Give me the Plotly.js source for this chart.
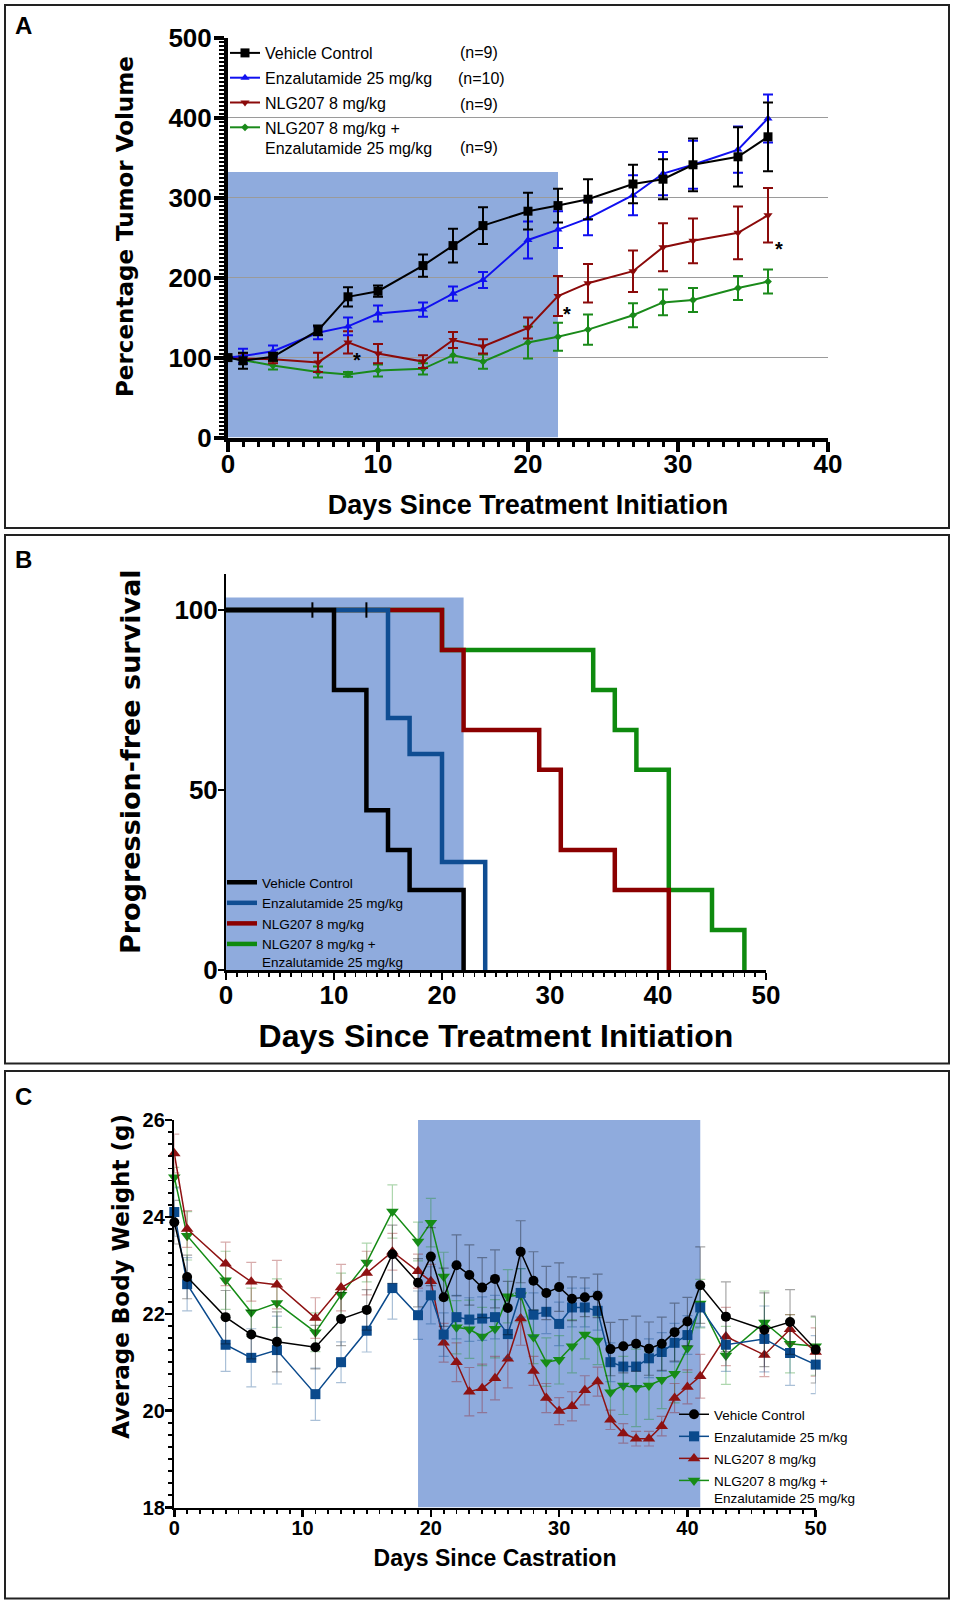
<!DOCTYPE html>
<html><head><meta charset="utf-8">
<script src="https://cdn.plot.ly/plotly-3.0.1.min.js"></script>
<style>html,body{margin:0;padding:0;background:#fff;} #chart{width:954px;height:1603px;}</style>
</head><body><div id="chart"></div>
<script>
// ---------- Panel A: tumor volume ----------
const daysA = [0,1,3,6,8,10,13,15,17,20,22,24,27,29,31,34,36];
const vehA = [100,96,101,134,176,183,215,240,265,283,290,298,317,323,341,351,376];
const vehAerr = [0,10,5,6,12,7,14,21,23,23,21,25,24,25,33,37,43];
const enzA = [100,102,108,131,139,155,160,180,197,247,260,274,303,330,341,360,399];
const enzAerr = [0,9,7,8,11,10,9,9,10,23,23,21,25,27,30,29,30];
const nlgA = [100,99,98,94,119,105,95,122,114,137,177,193,208,238,246,256,278];
const nlgAerr = [0,6,5,12,14,12,8,10,9,13,25,24,26,30,28,33,34];
const comboA = [100,97,90,82,79,84,86,103,95,119,126,135,153,169,172,187,195];
const comboAerr = [0,5,5,7,3,7.5,7,9,9,20,17.5,19,15,16,15,15,15];
const nLabelsA = ['(n=9)','(n=10)','(n=9)','(n=9)'];
const starDaysA = [8.6, 22.6, 36.7];
const starValsA = [97, 154, 236];
const treatA = [0, 22, 332];   // treatment window: day start, day end, top

// ---------- Panel B: progression-free survival ----------
const vehBx = [0,10,13,15,17,22];
const vehBy = [100,77.8,44.4,33.3,22.2,0];
const enzBx = [0,15,17,20,24];
const enzBy = [100,70,60,30,0];
const nlgBx = [0,20,22,29,31,36,41];
const nlgBy = [100,88.9,66.7,55.6,33.3,22.2,0];
const comboBx = [0,20,34,36,38,41,45,48];
const comboBy = [100,88.9,77.8,66.7,55.6,22.2,11.1,0];
const censorBx = [8,13];
const censorBy = [100,100];
const treatB = [0, 22, 103.5];

// ---------- Panel C: body weight ----------
const daysC = [0,1,4,6,8,11,13,15,17,19,20,21,22,23,24,25,26,27,28,29,30,31,32,33,34,35,36,37,38,39,40,41,43,46,48,50];
const vehC = [23.89,22.76,21.93,21.57,21.42,21.31,21.89,22.08,23.23,22.64,23.18,22.34,23.0,22.80,22.54,22.72,22.12,23.28,22.68,22.43,22.55,22.31,22.34,22.37,21.27,21.33,21.38,21.28,21.38,21.62,21.84,22.59,21.94,21.67,21.83,21.26];
const vehCerr = [0.45,0.45,0.55,0.5,0.62,0.45,0.55,0.42,0.6,0.5,0.6,0.6,0.63,0.62,0.62,0.6,0.55,0.64,0.6,0.55,0.5,0.45,0.4,0.45,0.55,0.55,0.57,0.55,0.55,0.6,0.5,0.79,0.72,0.76,0.67,0.69];
const enzC = [24.10,22.61,21.36,21.09,21.25,20.34,21.0,21.65,22.53,21.97,22.38,21.57,21.93,21.88,21.90,21.93,21.58,22.43,21.98,22.04,21.79,22.13,22.13,22.06,21.0,20.91,20.91,21.08,21.21,21.40,21.56,22.13,21.36,21.48,21.19,20.95];
const enzCerr = [0.5,0.55,0.55,0.6,0.7,0.54,0.42,0.44,0.64,0.5,0.59,0.45,0.45,0.45,0.45,0.45,0.5,0.5,0.45,0.45,0.45,0.4,0.4,0.4,0.4,0.4,0.4,0.4,0.4,0.4,0.4,0.4,0.55,0.68,0.67,0.6];
const nlgC = [25.31,23.75,23.03,22.66,22.60,21.91,22.54,22.84,23.28,22.88,22.67,21.40,21.0,20.39,20.46,20.67,21.07,21.90,20.82,20.26,19.99,20.09,20.42,20.60,19.81,19.53,19.42,19.42,19.68,20.26,20.49,20.71,21.53,21.15,21.68,21.21];
const nlgCerr = [0.4,0.38,0.45,0.4,0.5,0.42,0.48,0.45,0.38,0.35,0.35,0.4,0.4,0.5,0.5,0.45,0.6,0.55,0.3,0.3,0.28,0.3,0.3,0.3,0.2,0.2,0.15,0.15,0.2,0.3,0.35,0.45,0.6,0.45,0.3,0.5];
const comboC = [24.82,23.61,22.69,22.03,22.22,21.62,22.39,23.06,24.11,23.49,23.88,22.77,21.72,21.68,21.53,21.69,22.36,22.38,21.52,21.0,21.05,21.33,21.57,21.45,20.38,20.52,20.47,20.52,20.64,20.76,21.29,22.21,21.14,21.82,21.38,21.33];
const comboCerr = [0.2,0.5,0.6,0.5,0.5,0.4,0.45,0.4,0.55,0.4,0.5,0.5,0.55,0.6,0.6,0.6,0.55,0.55,0.55,0.5,0.5,0.55,0.5,0.5,0.6,0.6,0.8,0.7,0.6,0.6,0.5,0.5,0.6,0.65,0.6,0.6];
const treatC = [19, 41, 26];

const namesAB = ['Vehicle Control','Enzalutamide 25 mg/kg','NLG207 8 mg/kg','NLG207 8 mg/kg +<br>Enzalutamide 25 mg/kg'];
const namesC = ['Vehicle Control','Enzalutamide 25 m/kg','NLG207 8 mg/kg','NLG207 8 mg/kg +<br>Enzalutamide 25 mg/kg'];
const yTitles = ['Percentage Tumor Volume','Progression-free survival','Average Body Weight (g)'];

// ---------- styling ----------
const W = 954, H = 1603;
const fx = p => p / W;
const fy = p => 1 - p / H;
const SANS = 'Liberation Sans, Arial, sans-serif';
const WIDE = 'DejaVu Sans, Verdana, sans-serif';
const SHADE = '#8FABDD';

function traceA(name, y, err, color, symbol, size, rank){
  return {x: daysA, y: y, name: name, type: 'scatter', mode: 'lines+markers', xaxis: 'x', yaxis: 'y',
    legend: 'legend', legendgroup: 'A' + rank, legendrank: rank, cliponaxis: false,
    line: {color: color, width: 2}, marker: {color: color, symbol: symbol, size: size},
    error_y: {type: 'data', array: err, visible: true, color: color, thickness: 2, width: 5}};
}
function traceB(name, x, y, color, rank){
  return {x: x, y: y, name: name, type: 'scatter', mode: 'lines', xaxis: 'x2', yaxis: 'y2',
    legend: 'legend2', legendgroup: 'B' + rank, legendrank: rank, cliponaxis: false,
    line: {color: color, width: 4.5, shape: 'hv'}};
}
function traceC(name, y, err, color, errColor, symbol, size, rank){
  return {x: daysC, y: y, name: name, type: 'scatter', mode: 'lines+markers', xaxis: 'x3', yaxis: 'y3',
    legend: 'legend3', legendgroup: 'C' + rank, legendrank: rank, cliponaxis: false,
    line: {color: color, width: 1.5}, marker: {color: color, symbol: symbol, size: size},
    error_y: {type: 'data', array: err, visible: true, color: errColor, thickness: 1.2, width: 5}};
}

const data = [
  traceA(namesAB[3], comboA, comboAerr, '#1A8A1A', 'diamond', 6, 4),
  traceA(namesAB[2], nlgA, nlgAerr, '#8B0A0A', 'triangle-down', 8, 3),
  traceA(namesAB[1], enzA, enzAerr, '#1010F0', 'triangle-up', 8, 2),
  traceA(namesAB[0], vehA, vehAerr, '#000000', 'square', 9, 1),

  traceB(namesAB[3], comboBx, comboBy, '#0E8A0E', 4),
  traceB(namesAB[2], nlgBx, nlgBy, '#8B0000', 3),
  traceB(namesAB[1], enzBx, enzBy, '#0F4D92', 2),
  traceB(namesAB[0], vehBx, vehBy, '#000000', 1),
  {x: censorBx, y: censorBy, type: 'scatter', mode: 'markers', xaxis: 'x2', yaxis: 'y2', showlegend: false,
   hoverinfo: 'skip', cliponaxis: false,
   marker: {symbol: 'line-ns', size: 11, line: {color: '#000', width: 2}}},

  traceC(namesC[3], comboC, comboCerr, '#168C16', 'rgba(22,140,22,0.35)', 'triangle-down', 11, 4),
  traceC(namesC[2], nlgC, nlgCerr, '#8E1212', 'rgba(142,18,18,0.35)', 'triangle-up', 11, 3),
  traceC(namesC[1], enzC, enzCerr, '#0B4A8C', 'rgba(11,74,140,0.35)', 'square', 10, 2),
  traceC(namesC[0], vehC, vehCerr, '#000000', 'rgba(0,0,0,0.35)', 'circle', 10, 1)
];

const tickBold = s => ({family: SANS, size: s, weight: 'bold', color: '#000'});
const txt = (text, x, y, font, extra) => Object.assign({text: text, xref: 'paper', yref: 'paper', x: fx(x), y: fy(y),
  xanchor: 'center', yanchor: 'middle', showarrow: false, font: font}, extra || {});

const layout = {
  width: W, height: H,
  margin: {l: 0, r: 0, t: 0, b: 0},
  paper_bgcolor: '#fff', plot_bgcolor: 'rgba(0,0,0,0)',
  font: {family: SANS, color: '#000'},
  showlegend: true,
  // Panel A axes
  xaxis: {domain: [fx(228), fx(828)], anchor: 'y', range: [0, 40], dtick: 10, tick0: 0,
    ticks: 'outside', ticklen: 10, tickwidth: 4, tickcolor: '#000', ticklabelstandoff: -10,
    showline: true, linewidth: 4, linecolor: '#000', showgrid: false, zeroline: false,
    minor: {dtick: 1, tick0: 0, ticks: 'outside', ticklen: 5, tickwidth: 3, tickcolor: '#000'},
    tickfont: tickBold(26),
    title: {text: 'Days Since Treatment Initiation', font: {family: SANS, size: 27, weight: 'bold', color: '#000'}, standoff: 18}},
  yaxis: {domain: [fy(437.6), fy(37.6)], anchor: 'x', range: [0, 500], dtick: 100, tick0: 0,
    ticks: 'outside', ticklen: 10, tickwidth: 4, tickcolor: '#000', ticklabelstandoff: -3,
    showline: true, linewidth: 4, linecolor: '#000', showgrid: true, gridcolor: '#9A9A9A', gridwidth: 1.2, zeroline: false,
    minor: {dtick: 5, tick0: 0, ticks: 'outside', ticklen: 5, tickwidth: 2, tickcolor: '#000'},
    tickfont: tickBold(26)},
  // Panel B axes
  xaxis2: {domain: [fx(226), fx(766)], anchor: 'y2', range: [0, 50], dtick: 10, tick0: 0,
    ticks: 'outside', ticklen: 7, tickwidth: 2.5, tickcolor: '#000', ticklabelstandoff: -7,
    showline: true, linewidth: 2.5, linecolor: '#000', showgrid: false, zeroline: false,
    minor: {dtick: 1, tick0: 0, ticks: 'outside', ticklen: 4, tickwidth: 1.5, tickcolor: '#000'},
    tickfont: tickBold(26),
    title: {text: 'Days Since Treatment Initiation', font: {family: SANS, size: 32, weight: 'bold', color: '#000'}, standoff: 16}},
  yaxis2: {domain: [fy(970), fy(574)], anchor: 'x2', range: [0, 110], tickvals: [0, 50, 100],
    ticks: 'outside', ticklen: 6, tickwidth: 2, tickcolor: '#000', ticklabelstandoff: -5,
    showline: true, linewidth: 2, linecolor: '#000', showgrid: false, zeroline: false,
    tickfont: tickBold(26)},
  // Panel C axes
  xaxis3: {domain: [fx(174.3), fx(815.7)], anchor: 'y3', range: [0, 50], dtick: 10, tick0: 0,
    ticks: 'outside', ticklen: 7, tickwidth: 2.5, tickcolor: '#000', ticklabelstandoff: -6,
    showline: true, linewidth: 2.5, linecolor: '#000', showgrid: false, zeroline: false,
    minor: {dtick: 1, tick0: 0, ticks: 'outside', ticklen: 4, tickwidth: 1.8, tickcolor: '#000'},
    tickfont: tickBold(20),
    title: {text: 'Days Since Castration', font: {family: SANS, size: 23, weight: 'bold', color: '#000'}, standoff: 12}},
  yaxis3: {domain: [fy(1507.5), fy(1120)], anchor: 'x3', range: [18, 26], dtick: 2, tick0: 18,
    ticks: 'outside', ticklen: 7, tickwidth: 2.5, tickcolor: '#000', ticklabelstandoff: -4,
    showline: true, linewidth: 2.5, linecolor: '#000', showgrid: false, zeroline: false,
    minor: {dtick: 0.25, tick0: 18, ticks: 'outside', ticklen: 4, tickwidth: 1.8, tickcolor: '#000'},
    tickfont: tickBold(20)},
  legend: {x: fx(225), y: fy(36), xanchor: 'left', yanchor: 'top', bgcolor: 'rgba(0,0,0,0)',
    font: {family: SANS, size: 16, color: '#000'}, traceorder: 'grouped', tracegroupgap: 1, valign: 'top', itemwidth: 30},
  legend2: {x: fx(222), y: fy(867), xanchor: 'left', yanchor: 'top', bgcolor: 'rgba(0,0,0,0)',
    font: {family: SANS, size: 13.5, color: '#000'}, traceorder: 'grouped', tracegroupgap: 0, valign: 'top', itemwidth: 30},
  legend3: {x: fx(674), y: fy(1399), xanchor: 'left', yanchor: 'top', bgcolor: 'rgba(0,0,0,0)',
    font: {family: SANS, size: 13.5, color: '#000'}, traceorder: 'grouped', tracegroupgap: 1.5, valign: 'top', itemwidth: 30},
  shapes: [
    {type: 'rect', xref: 'x', yref: 'y', x0: treatA[0], x1: treatA[1], y0: 0, y1: treatA[2], fillcolor: SHADE, line: {width: 0}, layer: 'below'},
    {type: 'rect', xref: 'x2', yref: 'y2', x0: treatB[0], x1: treatB[1], y0: 0, y1: treatB[2], fillcolor: SHADE, line: {width: 0}, layer: 'below'},
    {type: 'rect', xref: 'x3', yref: 'y3', x0: treatC[0], x1: treatC[1], y0: 18, y1: treatC[2], fillcolor: SHADE, line: {width: 0}, layer: 'below'},
    {type: 'rect', xref: 'paper', yref: 'paper', x0: fx(5), x1: fx(949), y0: fy(528), y1: fy(5), line: {color: '#222', width: 2}},
    {type: 'rect', xref: 'paper', yref: 'paper', x0: fx(5), x1: fx(949), y0: fy(1063.5), y1: fy(535), line: {color: '#222', width: 2}},
    {type: 'rect', xref: 'paper', yref: 'paper', x0: fx(5), x1: fx(949), y0: fy(1598.5), y1: fy(1071), line: {color: '#222', width: 2}}
  ],
  annotations: [
    txt('A', 23, 26, {family: SANS, size: 24, weight: 'bold', color: '#000'}),
    txt('B', 23, 560, {family: SANS, size: 24, weight: 'bold', color: '#000'}),
    txt('C', 23, 1096, {family: SANS, size: 24, weight: 'bold', color: '#000'}),
    txt(yTitles[0], 125, 227, {family: WIDE, size: 23, weight: 'bold', color: '#000'}, {textangle: -90}),
    txt(yTitles[1], 130, 762, {family: WIDE, size: 27, weight: 'bold', color: '#000'}, {textangle: -90}),
    txt(yTitles[2], 120.7, 1276, {family: WIDE, size: 23, weight: 'bold', color: '#000'}, {textangle: -90}),
    txt(nLabelsA[0], 458, 52.3, {family: SANS, size: 16, color: '#000'}, {xanchor: 'left'}),
    txt(nLabelsA[1], 456, 79, {family: SANS, size: 16, color: '#000'}, {xanchor: 'left'}),
    txt(nLabelsA[2], 458, 104, {family: SANS, size: 16, color: '#000'}, {xanchor: 'left'}),
    txt(nLabelsA[3], 458, 147.7, {family: SANS, size: 16, color: '#000'}, {xanchor: 'left'})
  ].concat(starDaysA.map((d, i) => ({text: '*', xref: 'x', yref: 'y', x: d, y: starValsA[i], showarrow: false,
    xanchor: 'center', yanchor: 'middle', font: {family: SANS, size: 20, weight: 'bold', color: '#000'}})))
};

Plotly.newPlot('chart', data, layout, {displayModeBar: false, staticPlot: true});
</script></body></html>
